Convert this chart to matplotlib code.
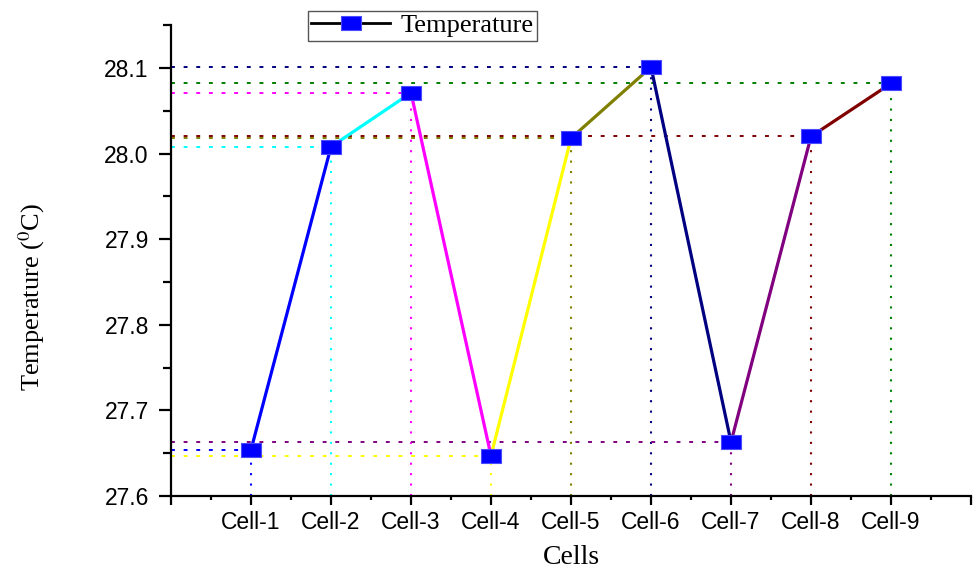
import numpy as np
import matplotlib
matplotlib.use("Agg")
import matplotlib.pyplot as plt
from matplotlib.path import Path
from matplotlib.ticker import MultipleLocator, FixedLocator

cells = ["Cell-1", "Cell-2", "Cell-3", "Cell-4", "Cell-5",
         "Cell-6", "Cell-7", "Cell-8", "Cell-9"]
temps = [27.654, 28.008, 28.071, 27.647, 28.018, 28.101, 27.663, 28.020, 28.082]
# one colour per cell: used for its drop lines and the segment leaving it
cell_colors = ["#0000ff", "#00ffff", "#ff00ff", "#ffff00", "#808000",
               "#000080", "#800080", "#800000", "#008000"]

plt.rcParams["mathtext.fontset"] = "stix"
serif = "Liberation Serif"
sans = "Liberation Sans"

# wide rectangular marker
rect = Path([(-1, -0.68), (1, -0.68), (1, 0.68), (-1, 0.68), (-1, -0.68)],
            [Path.MOVETO, Path.LINETO, Path.LINETO, Path.LINETO, Path.CLOSEPOLY])

fig = plt.figure(figsize=(9.76, 5.70), dpi=100)
ax = fig.add_axes([0.1752, 0.1298, 0.8197, 0.8260])

x = np.arange(1, len(cells) + 1)
ymin = 27.6

# dotted guide lines to both axes
for xi, yi, c in zip(x, temps, cell_colors):
    ax.plot([0, xi], [yi, yi], color=c, lw=1.4, ls=(0, (2, 4.5)), zorder=1)
    ax.plot([xi, xi], [ymin, yi], color=c, lw=1.5, ls=(0, (1, 4)), zorder=1)

# coloured segments between neighbouring cells
for i in range(len(x) - 1):
    ax.plot(x[i:i + 2], temps[i:i + 2], color=cell_colors[i], lw=2.3,
            solid_capstyle="butt", zorder=2)

ax.plot(x, temps, ls="none", marker=rect, ms=14, mfc="#0000ff",
        mec="#4a4aff", mew=0.8, zorder=3)

# legend handle: black line with blue marker
ax.plot([], [], color="black", lw=2, marker=rect, ms=14, mfc="#0000ff",
        mec="#4a4aff", mew=0.8, label="Temperature")
leg = fig.legend(loc="upper left", bbox_to_anchor=(0.3156, 0.9812),
                 prop={"family": serif, "size": 19}, handlelength=3.0,
                 handletextpad=0.4, borderpad=0.12, borderaxespad=0,
                 fancybox=False, framealpha=1)
leg.get_frame().set_edgecolor("#555555")
leg.get_frame().set_linewidth(1.0)

ax.set_xlim(0, 10)
ax.set_ylim(27.6, 28.15)

ax.xaxis.set_minor_locator(MultipleLocator(0.5))
ax.set_xticks(np.arange(0, 11))
ax.set_xticklabels([""] + cells + [""])
ax.yaxis.set_major_locator(FixedLocator([27.6, 27.7, 27.8, 27.9, 28.0, 28.1]))
ax.yaxis.set_minor_locator(FixedLocator(np.arange(27.65, 28.16, 0.1)))
ax.yaxis.set_major_formatter(matplotlib.ticker.FormatStrFormatter("%.1f"))

for side in ("top", "right"):
    ax.spines[side].set_visible(False)
for side in ("left", "bottom"):
    ax.spines[side].set_linewidth(1.6)

ax.tick_params(axis="x", which="major", direction="out", length=6.5,
               width=1.6, pad=4, labelsize=16.5)
ax.tick_params(axis="x", which="minor", direction="out", length=3, width=1.6)
ax.tick_params(axis="y", which="major", direction="out", length=9,
               width=1.6, pad=7, labelsize=16.5)
ax.tick_params(axis="y", which="minor", direction="out", length=5.5, width=1.6)
for lab in ax.get_xticklabels() + ax.get_yticklabels():
    lab.set_family(sans)

ax.set_xlabel("Cells", family=serif, fontsize=20, labelpad=8)
ax.set_ylabel("Temperature ($^{0}$C)", family=serif, fontsize=19)
ax.yaxis.set_label_coords(-0.155, 0.423)

fig.savefig("out.png", dpi=100)
